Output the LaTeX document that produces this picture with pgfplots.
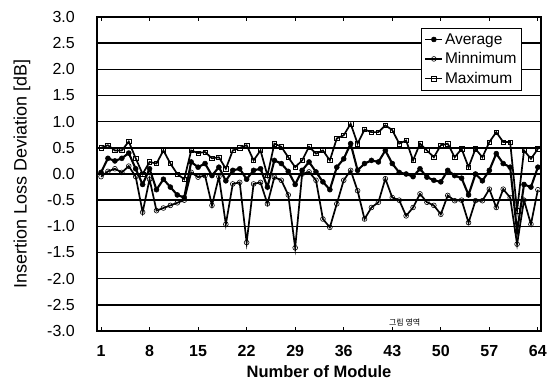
\documentclass[border=0pt]{standalone}
\usepackage{pgfplots}
\usepackage{pgfplotstable}
\pgfplotsset{compat=1.18}
\usepackage{fontspec}
\setmainfont{Liberation Sans}
\newfontfamily\kr{Noto Sans CJK KR}

\pgfplotstableread{
m max avg min
1 0.50 0.03 -0.05
2 0.55 0.30 0.05
3 0.45 0.25 0.10
4 0.45 0.30 0.03
5 0.62 0.40 0.15
6 0.30 0.10 -0.05
7 0.00 -0.20 -0.73
8 0.23 0.10 -0.10
9 0.20 -0.30 -0.70
10 0.45 -0.10 -0.65
11 0.20 -0.25 -0.60
12 0.00 -0.40 -0.55
13 -0.10 -0.45 -0.50
14 0.45 0.23 0.03
15 0.40 0.13 -0.06
16 0.42 0.20 -0.03
17 0.30 -0.03 -0.60
18 0.32 0.13 -0.05
19 0.10 -0.13 -0.96
20 0.45 0.07 -0.19
21 0.50 0.10 -0.16
22 0.55 -0.10 -1.31
23 0.26 0.07 -0.19
24 0.45 0.10 -0.16
25 -0.03 -0.25 -0.57
26 0.58 0.26 -0.06
27 0.52 0.20 -0.12
28 0.32 0.05 -0.40
29 0.13 -0.20 -1.41
30 0.26 0.07 0.00
31 0.52 0.23 0.04
32 0.39 0.04 -0.12
33 0.45 -0.15 -0.86
34 0.26 -0.30 -1.02
35 0.68 0.13 -0.57
36 0.74 0.29 -0.12
37 0.96 0.58 0.07
38 0.58 0.07 -0.32
39 0.85 0.20 -0.86
40 0.80 0.26 -0.64
41 0.80 0.23 -0.54
42 0.93 0.45 -0.09
43 0.84 0.20 -0.45
44 0.58 0.03 -0.50
45 0.64 0.00 -0.80
46 0.26 -0.05 -0.64
47 0.58 0.10 -0.38
48 0.45 -0.06 -0.54
49 0.32 -0.12 -0.60
50 0.55 -0.15 -0.77
51 0.58 0.07 -0.41
52 0.32 -0.03 -0.51
53 0.48 -0.08 -0.50
54 0.13 -0.40 -0.93
55 0.48 0.00 -0.51
56 0.32 -0.13 -0.51
57 0.61 0.07 -0.29
58 0.80 0.39 -0.64
59 0.61 0.20 -0.29
60 0.61 0.13 -0.45
61 -0.70 -1.10 -1.34
62 0.45 -0.20 -0.50
63 0.29 -0.25 -0.96
64 0.48 0.13 -0.30
}\data

\begin{document}
\begin{tikzpicture}
\begin{axis}[
  name=ax,
  width=444pt, height=314pt, scale only axis,
  xmin=0.42, xmax=64.45, ymin=-3, ymax=3,
  xtick={1,8,15,22,29,36,43,50,57,64},
  ytick={-3,-2.5,-2,-1.5,-1,-0.5,0,0.5,1,1.5,2,2.5,3},
  ymajorgrids, grid style={black, line width=1.6pt},
  axis line style={black, line width=1.8pt},
  xtick style={black, line width=0.8pt}, ytick style={draw=none},
  major tick length=4pt, tick align=inside,
  /pgf/number format/assume math mode=true,
  yticklabel={\pgfmathprintnumber[fixed,fixed zerofill,precision=1]{\tick}},
  every x tick label/.style={font=\bfseries\fontsize{16}{18}\selectfont,
    anchor=north, inner sep=0pt},
  xticklabel shift=14pt,
  every y tick label/.style={font=\fontsize{16}{18}\selectfont, anchor=east,
    inner sep=0pt},
  yticklabel shift=22pt,
  xlabel={\bfseries Number of Module},
  ylabel={Insertion Loss Deviation [dB]},
  every axis x label/.style={at={([yshift=-41pt]axis description cs:0.5,0)},
    anchor=center, font=\fontsize{16.5}{18}\selectfont},
  every axis y label/.style={at={([xshift=-75pt]axis description cs:0,0.5)},
    anchor=center, rotate=90, font=\fontsize{18}{20}\selectfont},
  legend style={at={(0.957,0.965)}, anchor=north east, draw=black,
    line width=0.8pt, fill=white, font=\fontsize{15.5}{17}\selectfont,
    row sep=3pt, inner sep=3pt},
  legend cell align=left,
  legend image post style={line width=1.2pt},
]
\addplot[black, line width=2.1pt, mark=*, mark size=2.5pt, mark options={fill=black, line width=0.5pt}] table[x=m, y=avg] {\data};
\addlegendentry{Average}
\addplot[black, line width=1.7pt, mark=o, mark size=2.4pt, mark options={fill=white, line width=0.6pt}] table[x=m, y=min] {\data};
\addlegendentry{Minnimum}
\addplot[black, line width=1.7pt, mark=square, mark size=2.2pt, mark options={fill=white, line width=0.6pt}] table[x=m, y=max] {\data};
\addlegendentry{Maximum}
\node[font=\kr\fontsize{8}{9}\selectfont, anchor=center] at (axis cs:44.8,-2.83) {그림 영역};
\end{axis}
\pgfresetboundingbox
\path ([shift={(-97pt,-50pt)}]ax.south west) rectangle ([shift={(7pt,17pt)}]ax.north east);
\end{tikzpicture}
\end{document}
